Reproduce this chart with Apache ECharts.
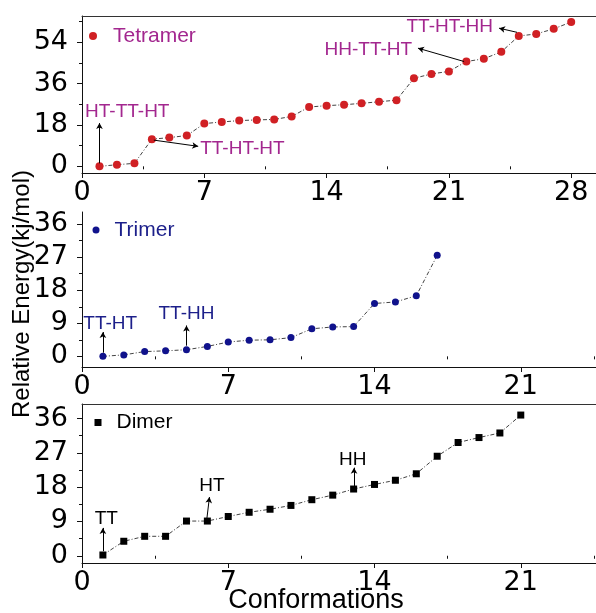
<!DOCTYPE html>
<html lang="en">
<head>
<meta charset="UTF-8">
<title>Relative Energy of Conformations</title>
<script src="https://cdn.jsdelivr.net/npm/echarts@6/dist/echarts.min.js"></script>
</head>
<body style="margin:0;background:#fff;">
<div id="main" style="width:596px;height:613px;"></div>
<script>
// data
var tetramerX = [1, 2, 3, 4, 5, 6, 7, 8, 9, 10, 11, 12, 13, 14, 15, 16, 17, 18, 19, 20, 21, 22, 23, 24, 25, 26, 27, 28];
var tetramerE = [0, 0.7, 1.3, 11.8, 12.5, 13.4, 18.6, 19.3, 19.9, 20.2, 20.4, 21.7, 25.8, 26.4, 26.8, 27.4, 28.1, 28.8, 38.3, 40.2, 41.3, 45.6, 46.8, 49.8, 56.7, 57.6, 59.8, 62.8];
var trimerX = [1, 2, 3, 4, 5, 6, 7, 8, 9, 10, 11, 12, 13, 14, 15, 16, 17];
var trimerE = [0, 0.4, 1.3, 1.5, 1.8, 2.7, 3.9, 4.4, 4.5, 5.1, 7.5, 8.0, 8.1, 14.4, 14.8, 16.5, 27.5];
var dimerX = [1, 2, 3, 4, 5, 6, 7, 8, 9, 10, 11, 12, 13, 14, 15, 16, 17, 18, 19, 20, 21];
var dimerE = [0.2, 3.8, 5.1, 5.1, 9.1, 9.1, 10.3, 11.4, 12.2, 13.2, 14.7, 15.9, 17.5, 18.7, 19.8, 21.5, 26.1, 29.7, 31.0, 32.2, 36.9];

// tick labels
var topXTicks = [0, 7, 14, 21, 28];
var subXTicks = [0, 7, 14, 21];
var xMinor = [3.5, 10.5, 17.5, 24.5];
var topYTicks = [0, 18, 36, 54];
var topYMinor = [9, 27, 45, 63];
var subYTicks = [0, 9, 18, 27, 36];
var subYMinor = [4.5, 13.5, 22.5, 31.5];

var FONT = '"Liberation Sans", Arial, sans-serif';
var TICK_FONT = '"DejaVu Sans", sans-serif';
var C_TETRA = '#d02024', C_TETRA_TXT = '#a3278f';
var C_TRI = '#10128c', C_TRI_TXT = '#1c1f8a';
var C_DI = '#000000';

function zip(xs, ys) {
    return xs.map(function (x, i) { return [x, ys[i]]; });
}

// three stacked panels sharing the left edge
var panels = [
    {top: 16, bottom: 440, xMax: 29.42, yMin: -2.9, yMax: 65.4, xt: topXTicks, yt: topYTicks, ym: topYMinor, border: true},
    {top: 212, bottom: 246, xMax: 24.6, yMin: -2.9, yMax: 39.3, xt: subXTicks, yt: subYTicks, ym: subYMinor, border: false},
    {top: 404, bottom: 50, xMax: 24.6, yMin: -1.9, yMax: 39.8, xt: subXTicks, yt: subYTicks, ym: subYMinor, border: true}
];

var grids = [], xAxes = [], yAxes = [];
var mainX = [], mainY = [];
panels.forEach(function (p, g) {
    grids.push({left: 82, right: 0, top: p.top, bottom: p.bottom});
    mainX.push(xAxes.length);
    xAxes.push({
        type: 'value', gridIndex: g, position: 'bottom', min: 0, max: p.xMax,
        axisLine: {show: true, onZero: false, lineStyle: {color: '#111', width: 1}},
        axisTick: {show: true, customValues: p.xt, length: 5, lineStyle: {color: '#111'}},
        axisLabel: {customValues: p.xt, color: '#000', fontSize: 27, fontFamily: TICK_FONT, margin: 6},
        splitLine: {show: false}
    });
    // minor ticks
    xAxes.push({
        type: 'value', gridIndex: g, position: 'bottom', min: 0, max: p.xMax,
        axisLine: {show: false},
        axisTick: {show: true, customValues: xMinor, length: 3, lineStyle: {color: '#111'}},
        axisLabel: {show: false}, splitLine: {show: false}
    });
    if (p.border) {
        xAxes.push({
            type: 'value', gridIndex: g, position: 'top', min: 0, max: p.xMax,
            axisLine: {show: true, onZero: false, lineStyle: {color: '#333', width: 1}},
            axisTick: {show: false}, axisLabel: {show: false}, splitLine: {show: false}
        });
    }
    mainY.push(yAxes.length);
    yAxes.push({
        type: 'value', gridIndex: g, position: 'left', min: p.yMin, max: p.yMax,
        axisLine: {show: true, onZero: false, lineStyle: {color: '#111', width: 1}},
        axisTick: {show: true, customValues: p.yt, length: 5, lineStyle: {color: '#111'}},
        axisLabel: {customValues: p.yt, color: '#000', fontSize: 27, fontFamily: TICK_FONT, margin: 14},
        splitLine: {show: false}
    });
    yAxes.push({
        type: 'value', gridIndex: g, position: 'left', min: p.yMin, max: p.yMax,
        axisLine: {show: false},
        axisTick: {show: true, customValues: p.ym, length: 3, lineStyle: {color: '#111'}},
        axisLabel: {show: false}, splitLine: {show: false}
    });
});

function arrows(list) {
    return {
        silent: true, symbol: ['none', 'arrow'], symbolSize: [5, 6],
        lineStyle: {color: '#000', width: 1, type: 'solid'},
        label: {show: false}, emphasis: {disabled: true},
        data: list.map(function (a) { return [{coord: a[0]}, {coord: a[1]}]; })
    };
}
function notes(list, color) {
    return {
        silent: true, symbol: 'circle', symbolSize: 1,
        itemStyle: {color: 'rgba(0,0,0,0)'},
        label: {show: true, position: 'inside', formatter: '{b}', color: color, fontSize: 19, fontFamily: FONT},
        data: list.map(function (n) { return {name: n[0], coord: n[1]}; })
    };
}
function legendText(color, padLeft) {
    return {color: color, fontSize: 21, fontFamily: FONT, lineHeight: 22, padding: [0, 0, 6, padLeft]};
}

var linkStyle = {color: '#444', width: 1, type: [4, 2, 1, 2]};

var option = {
    animation: false,
    backgroundColor: '#fff',
    grid: grids,
    xAxis: xAxes,
    yAxis: yAxes,
    legend: [
        {data: ['Tetramer'], left: 89, top: 22, padding: 0, icon: 'circle', itemWidth: 8, itemHeight: 8,
         textStyle: legendText(C_TETRA_TXT, 11), selectedMode: false},
        {data: ['Trimer'], left: 92.5, top: 216, padding: 0, icon: 'circle', itemWidth: 7, itemHeight: 7,
         textStyle: legendText(C_TRI_TXT, 10), selectedMode: false},
        {data: ['Dimer'], left: 94.5, top: 408.5, padding: 0, icon: 'rect', itemWidth: 7, itemHeight: 7,
         textStyle: legendText(C_DI, 10), selectedMode: false}
    ],
    graphic: [
        {type: 'text', x: 22, y: 294, rotation: Math.PI / 2,
         style: {text: 'Relative Energy(kj/mol)', font: '24px ' + FONT, fill: '#000', align: 'center', verticalAlign: 'middle'}},
        {type: 'text', x: 316, y: 601,
         style: {text: 'Conformations', font: '27px ' + FONT, fill: '#000', align: 'center', verticalAlign: 'middle'}}
    ],
    series: [
        {
            name: 'Tetramer', type: 'line', xAxisIndex: mainX[0], yAxisIndex: mainY[0],
            data: zip(tetramerX, tetramerE), symbol: 'circle', symbolSize: 8,
            itemStyle: {color: C_TETRA}, lineStyle: linkStyle,
            markLine: arrows([
                [[1, 1.3], [1, 18.8]],
                [[4.11, 11.4], [6.65, 8.7]],
                [[21.87, 45.6], [19.23, 51.4]],
                [[24.9, 58.3], [23.87, 60.1]]
            ]),
            markPoint: notes([
                ['HT-TT-HT', [2.59, 23.9]],
                ['TT-HT-HT', [9.18, 7.55]],
                ['HH-TT-HT', [16.39, 50.65]],
                ['TT-HT-HH', [21.05, 60.76]]
            ], C_TETRA_TXT)
        },
        {
            name: 'Trimer', type: 'line', xAxisIndex: mainX[1], yAxisIndex: mainY[1],
            data: zip(trimerX, trimerE), symbol: 'circle', symbolSize: 7,
            itemStyle: {color: C_TRI}, lineStyle: linkStyle,
            markLine: arrows([
                [[1, 1.0], [1, 6.6]],
                [[5, 2.9], [5, 8.4]]
            ]),
            markPoint: notes([
                ['TT-HT', [1.35, 9.0]],
                ['TT-HH', [5.0, 11.6]]
            ], C_TRI_TXT)
        },
        {
            name: 'Dimer', type: 'line', xAxisIndex: mainX[2], yAxisIndex: mainY[2],
            data: zip(dimerX, dimerE), symbol: 'rect', symbolSize: 7,
            itemStyle: {color: C_DI}, lineStyle: linkStyle,
            markLine: arrows([
                [[1, 1.2], [1, 7.3]],
                [[5.98, 9.9], [6.1, 15.4]],
                [[13.02, 18.3], [13.02, 23.1]]
            ]),
            markPoint: notes([
                ['TT', [1.16, 9.6]],
                ['HT', [6.22, 18.4]],
                ['HH', [12.96, 25.1]]
            ], C_DI)
        }
    ]
};

var myChart = echarts.init(document.getElementById('main'));
myChart.setOption(option);
</script>
</body>
</html>
